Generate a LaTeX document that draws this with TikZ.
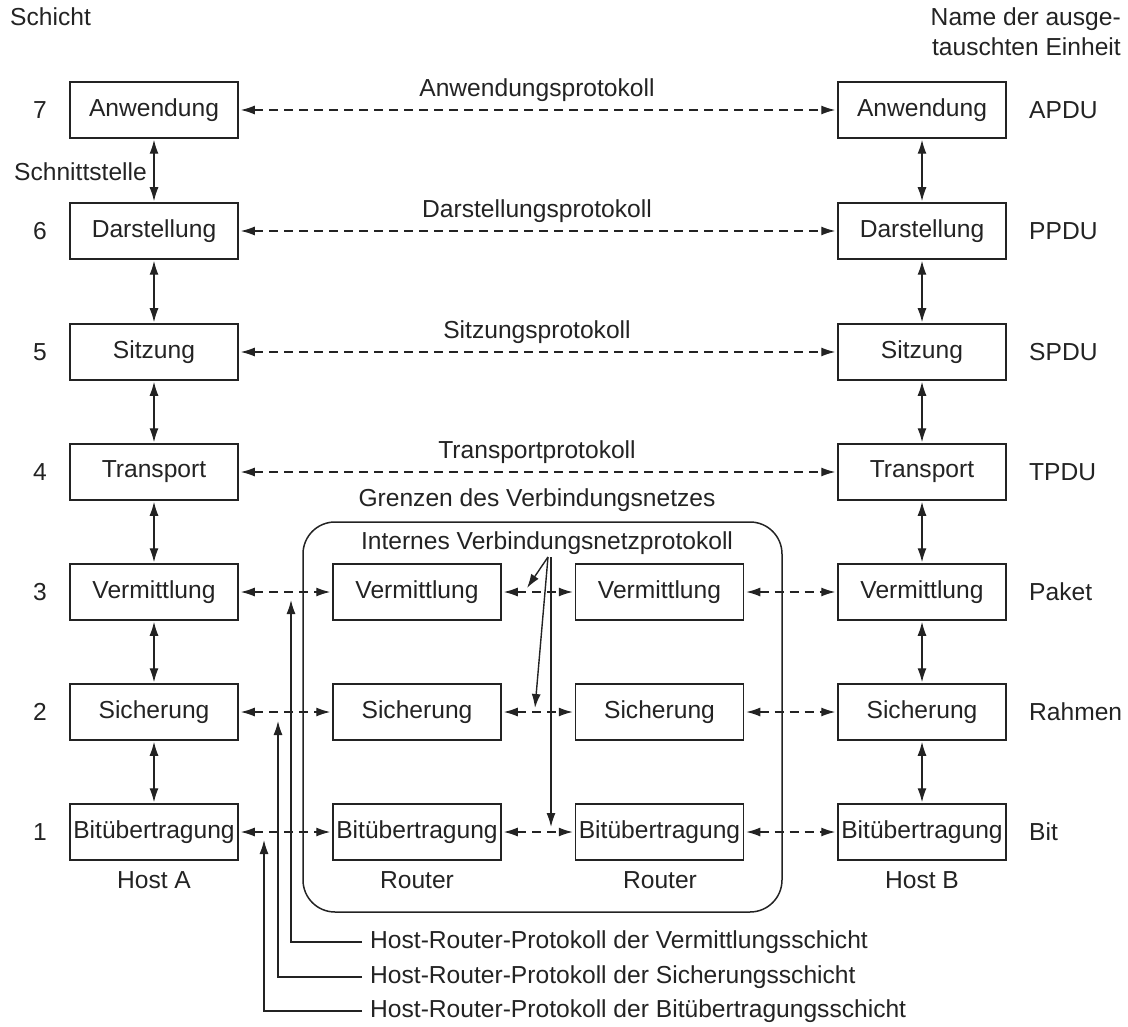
\documentclass[tikz,border=0pt]{standalone}
\usepackage{fontspec}
\setmainfont{Liberation Sans}
\usetikzlibrary{arrows.meta}
\definecolor{ink}{RGB}{35,35,35}
\begin{document}
\begin{tikzpicture}[x=1pt,y=-1pt,
  every node/.style={text=ink},
  font=\fontsize{24.6}{29}\selectfont,
  layer/.style={draw=ink, line width=1.5pt, minimum width=168pt, minimum height=56pt, inner sep=0pt},
  tipk/.tip={Latex[length=14pt,width=9pt]},
  both/.style={draw=ink, line width=1.4pt, {tipk}-{tipk}, shorten <=2pt, shorten >=2pt},
  peer/.style={both, dash pattern=on 9pt off 6pt},
  pointer/.style={draw=ink, line width=1.4pt, -{tipk}},
  caption/.style={anchor=west, inner sep=8pt}
]
\useasboundingbox (0,0) rectangle (1128,1027);

% headers
\node[anchor=west, inner sep=0pt] (hdl) at (10,17) {Schicht};
\node[anchor=east, align=right, inner sep=0pt, font=\fontsize{24.6}{30}\selectfont] (hdr) at (1121,32) {Name der ausge-\\tauschten Einheit};

% boundary of the subnet
\node[draw=ink, line width=1.5pt, rounded corners=32pt, minimum width=479pt, minimum height=390pt] (net) at (542.5,717) {};
\node (netlbl) at (537,500) {Grenzen des Verbindungsnetzes};
\node (intlbl) at (547,543) {Internes Verbindungsnetzprotokoll};

% the seven layers on both hosts
\foreach \n/\name/\unit/\y in {7/Anwendung/APDU/110, 6/Darstellung/PPDU/231, 5/Sitzung/SPDU/352, 4/Transport/TPDU/472, 3/Vermittlung/Paket/592, 2/Sicherung/Rahmen/712, 1/Bitübertragung/Bit/832} {
  \node[layer] (a\n) at (154,\y) {\name};
  \node[layer] (b\n) at (922,\y) {\name};
  \node (num\n) at (40,\y) {\n};
  \node[anchor=west, inner sep=0pt] (u\n) at (1029,\y) {\unit};
}

% routers (lower three layers)
\foreach \n/\name/\y in {3/Vermittlung/592, 2/Sicherung/712, 1/Bitübertragung/832} {
  \node[layer] (r\n) at (417,\y) {\name};
  \node[layer] (s\n) at (659.5,\y) {\name};
  \draw[peer] (a\n) -- (r\n);
  \draw[peer] (r\n) -- (s\n);
  \draw[peer] (s\n) -- (b\n);
}

% end-to-end protocols
\foreach \n/\proto/\y in {7/Anwendungsprotokoll/90, 6/Darstellungsprotokoll/211, 5/Sitzungsprotokoll/332, 4/Transportprotokoll/452} {
  \node (p\n) at (537,\y) {\proto};
  \draw[peer] (a\n) -- (b\n);
}

% interfaces between adjacent layers
\foreach \u/\l in {7/6, 6/5, 5/4, 4/3, 3/2, 2/1} {
  \draw[both, shorten <=1pt, shorten >=1pt] (a\u) -- (a\l);
  \draw[both, shorten <=1pt, shorten >=1pt] (b\u) -- (b\l);
}
\node[anchor=east, inner sep=0pt] (iface) at (147,172) {Schnittstelle};

% device names
\node (hostA) at (154,880) {Host A};
\node (rtA) at (417,880) {Router};
\node (rtB) at (660,880) {Router};
\node (hostB) at (922,880) {Host B};

% pointers of the internal subnet protocol
\coordinate (ip) at (548,557);
\coordinate (ipv) at (551,557);
\coordinate (it3) at (527,588);
\coordinate (it2) at (535,708);
\coordinate (it1) at (551,827);
\draw[pointer] (ip) -- (it3);
\draw[pointer] (ip) -- (it2);
\draw[pointer] (ipv) -- (it1);

% host-router protocols
\coordinate (h3) at (291,600);
\coordinate (h2) at (278,721);
\coordinate (h1) at (264,840);
\node[caption] (hr3) at (362,942) {Host-Router-Protokoll der Vermittlungsschicht};
\node[caption] (hr2) at (362,977) {Host-Router-Protokoll der Sicherungsschicht};
\node[caption] (hr1) at (362,1011) {Host-Router-Protokoll der Bitübertragungsschicht};
\draw[pointer] (hr3.west) -| (h3);
\draw[pointer] (hr2.west) -| (h2);
\draw[pointer] (hr1.west) -| (h1);
\end{tikzpicture}
\end{document}
